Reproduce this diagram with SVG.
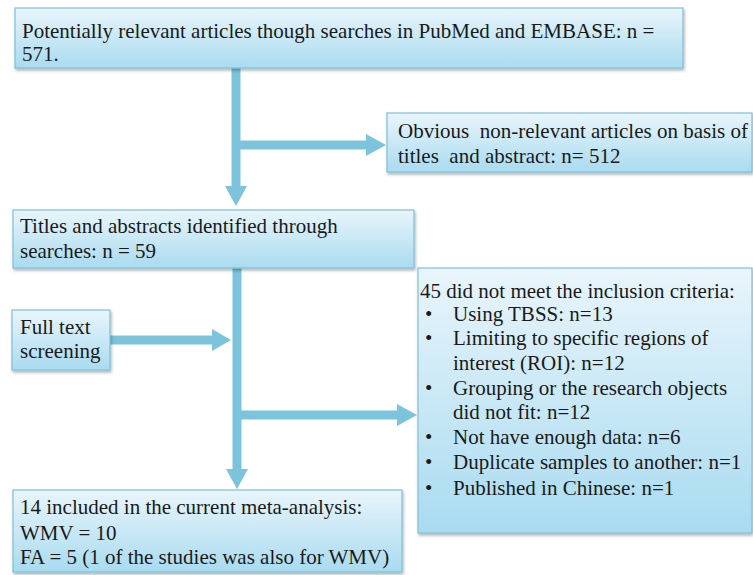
<svg xmlns="http://www.w3.org/2000/svg" width="753" height="575" viewBox="0 0 753 575">
<defs>
<linearGradient id="g" x1="0" y1="0" x2="0" y2="1">
<stop offset="0" stop-color="#e9f5fb"/>
<stop offset="1" stop-color="#a9dbf0"/>
</linearGradient>
<filter id="sh" x="-5%" y="-5%" width="110%" height="120%">
<feDropShadow dx="1" dy="2" stdDeviation="1.5" flood-color="#000" flood-opacity="0.3"/>
</filter>
</defs>
<style>
.box{fill:url(#g);stroke:#7fc0d8;stroke-width:1.2;filter:url(#sh)}
text{font-family:'Liberation Serif','DejaVu Serif',serif;font-size:21px;fill:#1a1a1a}
.ln{stroke:#7cc4dc;stroke-width:9;fill:none}
.hd{fill:#7cc4dc}
</style>
<rect width="753" height="575" fill="#fff"/>
<g id="connectors">
<line class="ln" x1="236" y1="68" x2="236" y2="188"/>
<polygon class="hd" points="225,186 247,186 236,206"/>
<line class="ln" x1="236" y1="145" x2="368" y2="145"/>
<polygon class="hd" points="366,134 366,156 386,145"/>
<line class="ln" x1="237" y1="268" x2="237" y2="471"/>
<polygon class="hd" points="226,469 248,469 237,489"/>
<line class="ln" x1="110" y1="340" x2="214" y2="340"/>
<polygon class="hd" points="212,329 212,351 231,340"/>
<line class="ln" x1="237" y1="415" x2="399" y2="415"/>
<polygon class="hd" points="397,404 397,426 417,415"/>
</g>
<g id="n1">
<rect class="box" x="15" y="8" width="668" height="60"/>
<text x="22" y="38">Potentially relevant articles though searches in PubMed and EMBASE: n =</text>
<text x="22" y="61">571.</text>
</g>
<g id="n2">
<rect class="box" x="387" y="113" width="365" height="59"/>
<text x="398" y="138" xml:space="preserve">Obvious  non-relevant articles on basis of</text>
<text x="398" y="163" xml:space="preserve">titles  and abstract: n= 512</text>
</g>
<g id="n3">
<rect class="box" x="13" y="210" width="401" height="58"/>
<text x="20" y="233">Titles and abstracts identified through</text>
<text x="20" y="258">searches: n = 59</text>
</g>
<g id="n4">
<rect class="box" x="12" y="310" width="98" height="60"/>
<text x="20" y="334">Full text</text>
<text x="20" y="358">screening</text>
</g>
<g id="n5">
<rect class="box" x="418" y="268" width="334" height="265"/>
<text x="420" y="298">45 did not meet the inclusion criteria:</text>
<text x="425" y="321">•</text><text x="453" y="321">Using TBSS: n=13</text>
<text x="425" y="345">•</text><text x="453" y="345">Limiting to specific regions of</text>
<text x="453" y="370">interest (ROI): n=12</text>
<text x="425" y="395">•</text><text x="453" y="395">Grouping or the research objects</text>
<text x="453" y="419">did not fit: n=12</text>
<text x="425" y="444">•</text><text x="453" y="444">Not have enough data: n=6</text>
<text x="425" y="469">•</text><text x="453" y="469">Duplicate samples to another: n=1</text>
<text x="425" y="495">•</text><text x="453" y="495">Published in Chinese: n=1</text>
</g>
<g id="n6">
<rect class="box" x="13" y="490" width="389" height="82"/>
<text x="20" y="514">14 included in the current meta-analysis:</text>
<text x="20" y="540">WMV = 10</text>
<text x="20" y="564">FA = 5 (1 of the studies was also for WMV)</text>
</g>
</svg>
